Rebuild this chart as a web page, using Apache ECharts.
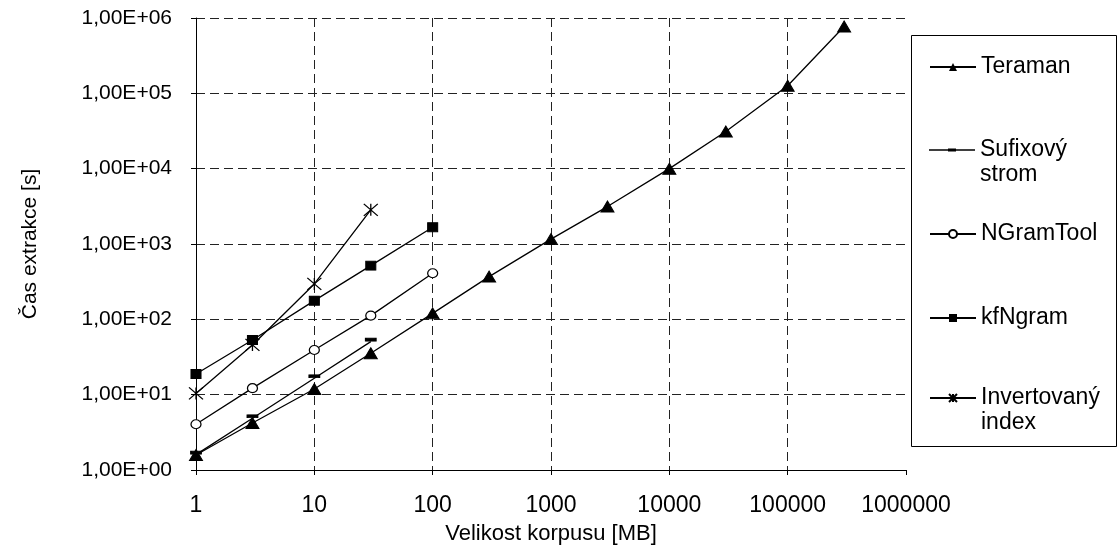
<!DOCTYPE html>
<html>
<head>
<meta charset="utf-8">
<script src="https://cdn.jsdelivr.net/npm/echarts@6/dist/echarts.min.js"></script>
<style>html,body{margin:0;padding:0;background:#fff}#c{width:1118px;height:550px}</style>
</head>
<body>
<div id="c"></div>
<script>
// ---- data ----
const xTicks = ["1","10","100","1000","10000","100000","1000000"];
const yTicks = ["1,00E+00","1,00E+01","1,00E+02","1,00E+03","1,00E+04","1,00E+05","1,00E+06"];
const seriesNames = ["Teraman","Sufixový strom","NGramTool","kfNgram","Invertovaný index"];
const xTeraman = [1,3,10,30,100,300,1000,3000,10000,30000,100000,300000];
const yTeraman = [1.58,4.2,11.9,35.5,120,369,1160,3140,10000,31100,126000,771000];
const xSufix = [1,3,10,30];
const ySufix = [1.6,4.86,16.5,50.6];
const xNGram = [1,3,10,30,100];
const yNGram = [4.05,12.2,39.2,112,409];
const xKf = [1,3,10,30,100];
const yKf = [18.8,53.2,177,516,1670];
const xInv = [1,3,10,30];
const yInv = [10.4,45.7,295,2840];

const zip = (xs, ys) => xs.map((x, i) => [x, ys[i]]);
const FONT = 'Liberation Sans';
const star = 'path://M0,0L10,10M10,0L0,10M5,0L5,10';

const base = {
  type: 'line',
  lineStyle: { color: '#000', width: 1.3 },
  itemStyle: { color: '#000', borderColor: '#000' },
  emphasis: { disabled: true },
  animation: false
};

const series = [
  Object.assign({}, base, { name: seriesNames[0], data: zip(xTeraman, yTeraman), symbol: 'triangle', symbolSize: [13, 11] }),
  Object.assign({}, base, { name: seriesNames[1], data: zip(xSufix, ySufix), symbol: 'rect', symbolSize: [10, 3], symbolOffset: [0, -2] }),
  Object.assign({}, base, { name: seriesNames[2], data: zip(xNGram, yNGram), symbol: 'circle', symbolSize: [10, 9],
    itemStyle: { color: '#fff', borderColor: '#000', borderWidth: 1.2 } }),
  Object.assign({}, base, { name: seriesNames[3], data: zip(xKf, yKf), symbol: 'rect', symbolSize: [10, 9] }),
  Object.assign({}, base, { name: seriesNames[4], data: zip(xInv, yInv), symbol: star, symbolSize: [14, 12],
    itemStyle: { color: '#000', borderColor: '#000', borderWidth: 1.2 } })
];

// legend labels: two-line entries get a blank first line so the icon sits on the first text line
const legendLabels = ["Teraman"," \nSufixový\nstrom","NGramTool","kfNgram"," \nInvertovaný\nindex"];
const legendCenters = [67, 150, 234, 318, 398];
const LH = 25;
const dashIcon = 'path://M0,4.3L46,4.3L46,5.7L0,5.7ZM19,3.5L27,3.5L27,6.5L19,6.5Z';
const legends = seriesNames.map((n, i) => {
  const lines = legendLabels[i].split('\n').length;
  const item = { name: n };
  if (i === 1) item.icon = dashIcon;
  return {
    show: true,
    left: 929,
    top: legendCenters[i] - lines * LH / 2,
    orient: 'vertical',
    itemWidth: 46,
    itemHeight: 10,
    itemGap: 0,
    padding: 0,
    selectedMode: false,
    data: [item],
    formatter: () => legendLabels[i],
    textStyle: { fontFamily: FONT, fontSize: 23, color: '#000', lineHeight: LH }
  };
});

const chart = echarts.init(document.getElementById('c'), null, { renderer: 'canvas' });
chart.setOption({
  animation: false,
  backgroundColor: '#fff',
  grid: { left: 196, right: 212, top: 18, bottom: 80, containLabel: false },
  legend: legends,
  graphic: [{
    type: 'rect',
    shape: { x: 911.5, y: 35.5, width: 205, height: 411 },
    style: { fill: 'none', stroke: '#000', lineWidth: 1 }
  }],
  xAxis: {
    type: 'log', logBase: 10, min: 1, max: 1000000, splitNumber: 6,
    name: 'Velikost korpusu [MB]', nameLocation: 'middle', nameGap: 53,
    nameTextStyle: { fontFamily: FONT, fontSize: 22, color: '#000' },
    axisLine: { show: true, lineStyle: { color: '#000', width: 1 } },
    axisTick: { show: true, length: 5, inside: false, lineStyle: { color: '#000' } },
    axisLabel: { fontFamily: FONT, fontSize: 23, color: '#000', margin: 24,
      formatter: v => xTicks[Math.round(Math.log10(v))] },
    splitLine: { show: true, showMinLine: false, showMaxLine: false,
      lineStyle: { color: '#222', type: [9, 5], width: 1 } },
    minorTick: { show: false }
  },
  yAxis: {
    type: 'log', logBase: 10, min: 1, max: 1000000, splitNumber: 6,
    name: 'Čas extrakce [s]', nameLocation: 'middle', nameGap: 155, nameRotate: 90,
    nameTextStyle: { fontFamily: FONT, fontSize: 21, color: '#000' },
    axisLine: { show: true, lineStyle: { color: '#000', width: 1 } },
    axisTick: { show: true, length: 5, inside: false, lineStyle: { color: '#000' } },
    axisLabel: { fontFamily: FONT, fontSize: 21, color: '#000', margin: 24,
      formatter: v => yTicks[Math.round(Math.log10(v))] },
    splitLine: { show: true, showMinLine: false, showMaxLine: true,
      lineStyle: { color: '#222', type: [9, 5], width: 1 } },
    minorTick: { show: false }
  },
  series: series
});
</script>
</body>
</html>
